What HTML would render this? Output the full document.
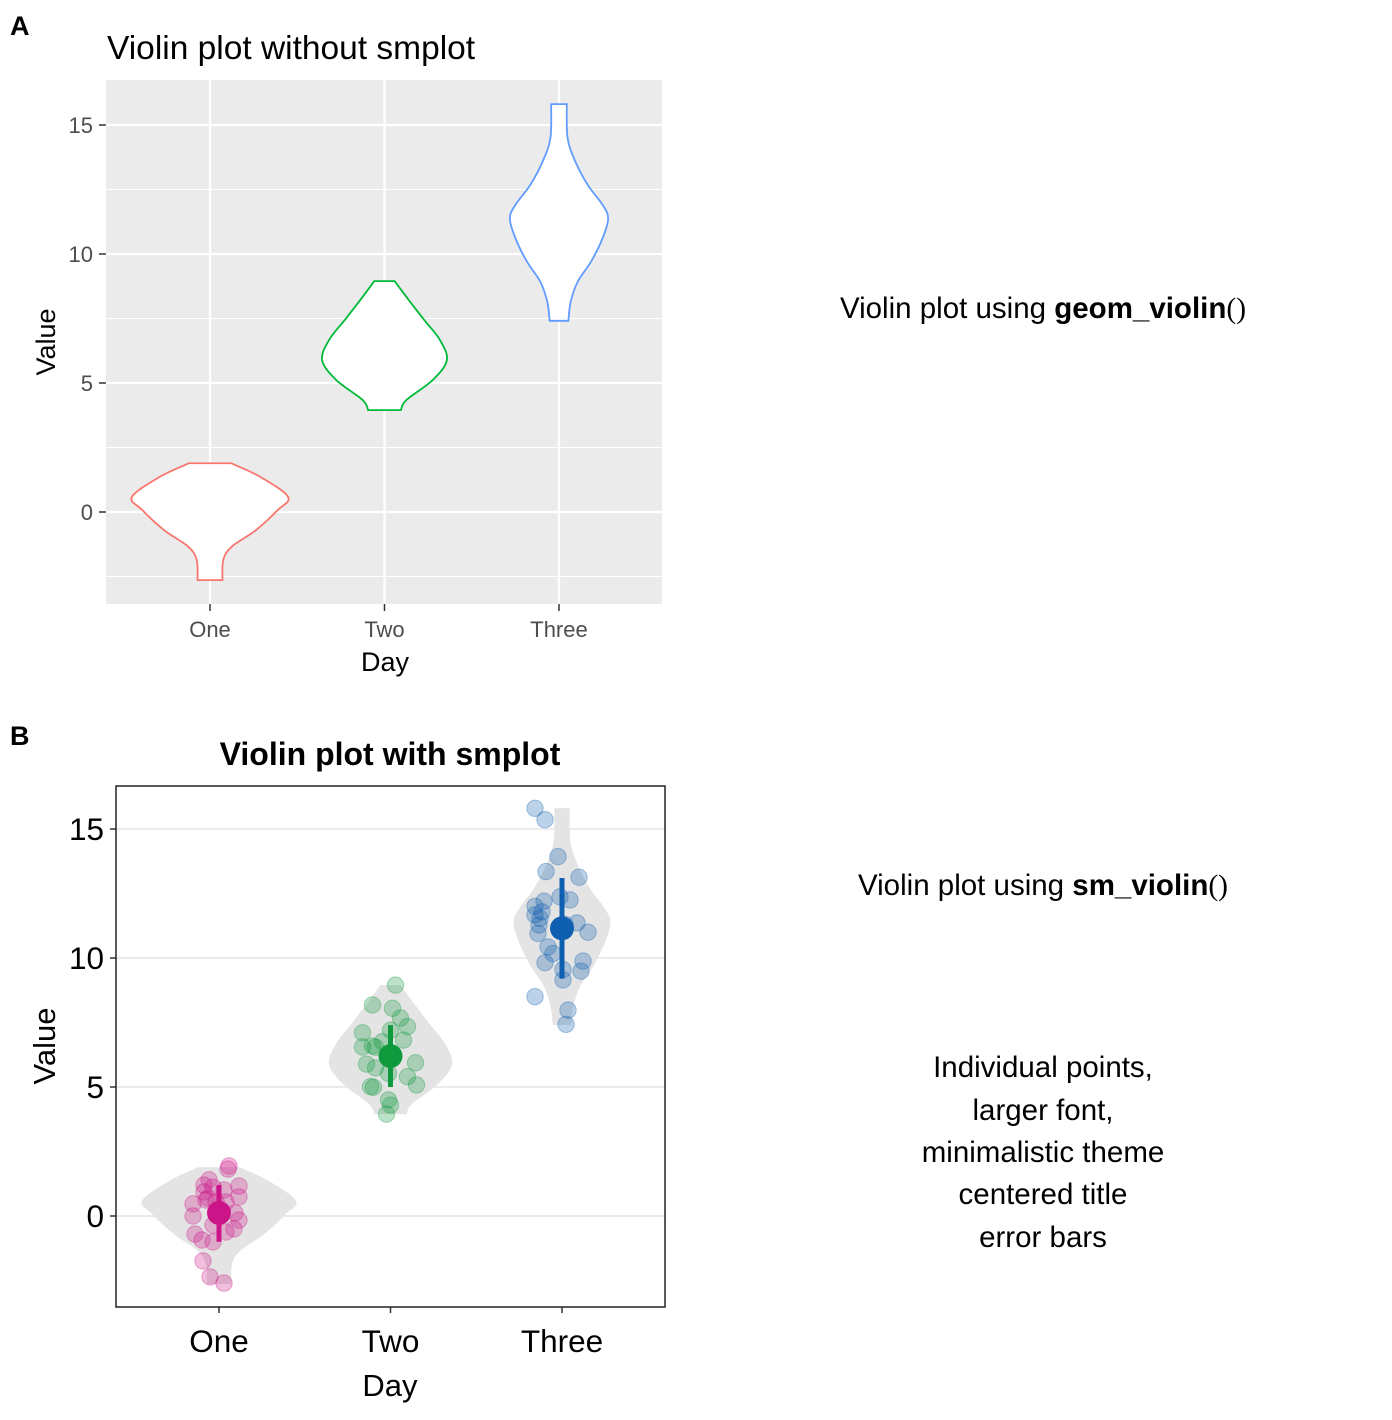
<!DOCTYPE html>
<html><head><meta charset="utf-8"><style>
html,body{margin:0;padding:0;background:#fff;width:1392px;height:1420px;overflow:hidden}
svg{display:block;font-family:"Liberation Sans",Arial,sans-serif}
</style></head><body>
<svg id="s" width="1392" height="1420" viewBox="0 0 1392 1420">
<text x="10" y="35" font-size="27" font-weight="bold">A</text>
<text x="10" y="745" font-size="27" font-weight="bold">B</text>
<text x="107" y="59" font-size="33.5">Violin plot without smplot</text>
<text x="390" y="765" font-size="32" font-weight="bold" text-anchor="middle">Violin plot with smplot</text>
<g id="gA"></g>
<g id="gB"></g>
<text x="1043" y="318" font-size="29.5" text-anchor="middle">Violin plot using <tspan font-weight="bold">geom_violin</tspan><tspan font-family="Liberation Serif">()</tspan></text>
<text x="1043" y="895" font-size="29.5" text-anchor="middle">Violin plot using <tspan font-weight="bold">sm_violin</tspan><tspan font-family="Liberation Serif">()</tspan></text>
<g font-size="29.5" text-anchor="middle">
<text x="1043" y="1077">Individual points,</text>
<text x="1043" y="1120">larger font,</text>
<text x="1043" y="1162">minimalistic theme</text>
<text x="1043" y="1204">centered title</text>
<text x="1043" y="1247">error bars</text>
</g>
</svg>
<script>
const categories = ["One","Two","Three"];
const yTicks = [0,5,10,15];
const violinVals = [
  [1.89,1.37,0.59,0.08,-0.70,-1.34,-1.86,-2.64],
  [8.95,8.22,7.44,6.67,5.89,5.12,4.34,3.95],
  [15.81,14.5,13.58,12.67,11.9,11.38,10.62,9.70,8.93,8.15,7.41]
];
const violinDens = [
  [0.27,0.64,1.0,0.87,0.59,0.28,0.17,0.16],
  [0.13,0.31,0.51,0.71,0.80,0.62,0.28,0.21],
  [0.10,0.11,0.21,0.37,0.56,0.63,0.56,0.41,0.24,0.15,0.12]
];
const ptsOne = [1.94,1.82,1.40,1.20,1.16,0.93,1.12,1.01,0.74,0.62,0.47,0.54,0,0.54,0.12,-0.16,-0.50,-0.35,-0.70,-0.93,-1.0,-1.74,-2.36,-2.6,-0.62,0.70];
const jitOne = [10,9,-10,-15,20,-15,-6,5,20,-13,-26,-3,-26,7,16,20,15,-6,-24,-17,-6,-16,-9,5,7,-11];
const ptsTwo = [8.95,8.18,8.05,7.67,7.34,7.1,7.2,6.82,6.55,6.59,6.54,6.76,5.89,5.74,5.94,5.40,5.08,5.01,4.99,4.50,4.30,3.95,5.53];
const jitTwo = [5,-18,2,10,17,-28,0,13,-28,-18,-15,-8,-24,-15,25,17,26,-20,-17,-2,0,-4,-2];
const ptsThree = [15.8,15.36,13.93,13.35,13.13,12.2,12.37,12.25,12.0,11.79,11.67,11.54,11.28,10.95,11.36,11.0,10.43,10.17,9.82,9.88,9.49,9.55,9.15,8.5,7.98,7.43,11.3];
const jitThree = [-27,-17,-4,-16,17,-18,-2,8,-27,-20,-27,-22,-23,-24,15,26,-14,-9,-17,21,19,1,1,-27,6,4,3];
const means = [0.12,6.2,11.15];
const errLow = [-1.0,5.0,9.2];
const errHigh = [1.2,7.4,13.1];

const NS="http://www.w3.org/2000/svg";
function mk(tag,attrs,parent){const e=document.createElementNS(NS,tag);for(const k in attrs)e.setAttribute(k,attrs[k]);parent.appendChild(e);return e;}

function violinPath(vals,dens,cx,ys,k){
  const R=vals.map((v,i)=>[cx+dens[i]*k,ys(v)]);
  const L=vals.map((v,i)=>[cx-dens[i]*k,ys(v)]).reverse();
  function curve(p){let d="";for(let i=0;i<p.length-1;i++){const p0=p[Math.max(0,i-1)],p1=p[i],p2=p[i+1],p3=p[Math.min(p.length-1,i+2)];
    d+=` C${p1[0]+(p2[0]-p0[0])/6},${p1[1]+(p2[1]-p0[1])/6} ${p2[0]-(p3[0]-p1[0])/6},${p2[1]-(p3[1]-p1[1])/6} ${p2[0]},${p2[1]}`;}return d;}
  return `M${R[0][0]},${R[0][1]}`+curve(R)+` L${L[0][0]},${L[0][1]}`+curve(L)+" Z";
}

// Panel A
(function(){
  const g=document.getElementById('gA');
  const X0=106,X1=662,Y0=80,Y1=604;
  const ys=v=>512-v*25.8;
  const xs=i=>210+i*174.5;
  const bg=mk('rect',{x:X0,y:Y0,width:X1-X0,height:Y1-Y0,fill:'#ebebeb'},g);
  
  
  [-2.5,2.5,7.5,12.5].forEach(v=>{const l=mk('line',{x1:X0,x2:X1,y1:ys(v),y2:ys(v),stroke:'#fff','stroke-width':1},g);
    
    });
  yTicks.forEach(v=>{const l=mk('line',{x1:X0,x2:X1,y1:ys(v),y2:ys(v),stroke:'#fff','stroke-width':2.2},g);
    
    
    const t=mk('line',{x1:99,x2:X0,y1:ys(v),y2:ys(v),stroke:'#333','stroke-width':1.5},g);
    
    
    const tx=mk('text',{x:93,y:ys(v)+8,'font-size':22,fill:'#4d4d4d','text-anchor':'end'},g);tx.textContent=v;
    
    });
  const cols=['#F8766D','#00BA38','#619CFF'];
  categories.forEach((c,i)=>{
    const l=mk('line',{x1:xs(i),x2:xs(i),y1:Y0,y2:Y1,stroke:'#fff','stroke-width':2.2},g);
    
    
    const t=mk('line',{x1:xs(i),x2:xs(i),y1:Y1,y2:Y1+7,stroke:'#333','stroke-width':1.5},g);
    
    
    const tx=mk('text',{x:xs(i),y:637,'font-size':22,fill:'#4d4d4d','text-anchor':'middle'},g);tx.textContent=c;
    
    
  });
  categories.forEach((c,i)=>{
    const p=mk('path',{d:violinPath(violinVals[i],violinDens[i],xs(i),ys,78),fill:'#fff',stroke:cols[i],'stroke-width':1.8},g);
    
    
  });
  const xt=mk('text',{x:385,y:671,'font-size':27,'text-anchor':'middle'},g);xt.textContent='Day';
  
  
  const yt=mk('text',{x:0,y:0,'font-size':27,'text-anchor':'middle',transform:'translate(55,342) rotate(-90)'},g);yt.textContent='Value';
  
  
})();

// Panel B
(function(){
  const g=document.getElementById('gB');
  const X0=116,X1=665,Y0=786,Y1=1307;
  const ys=v=>1216-v*25.8;
  const xs=i=>219+i*171.5;
  yTicks.forEach(v=>{const l=mk('line',{x1:X0,x2:X1,y1:ys(v),y2:ys(v),stroke:'#ebebeb','stroke-width':2},g);
    
    
    const t=mk('line',{x1:110,x2:X0,y1:ys(v),y2:ys(v),stroke:'#333','stroke-width':1.5},g);
    
    
    const tx=mk('text',{x:104,y:ys(v)+11,'font-size':31.5,fill:'#000','text-anchor':'end'},g);tx.textContent=v;
    
    });
  const cols=['#CC1489','#109A3E','#0F5FB0'];
  const pts=[ptsOne,ptsTwo,ptsThree], jit=[jitOne,jitTwo,jitThree];
  categories.forEach((c,i)=>{
    const p=mk('path',{d:violinPath(violinVals[i],violinDens[i],xs(i),ys,77),fill:'#e4e4e4',stroke:'none'},g);
    
    
    pts[i].forEach((v,j)=>{
      const d=mk('circle',{cx:xs(i)+jit[i][j],cy:ys(v),r:8.2,fill:cols[i],'fill-opacity':0.28,stroke:cols[i],'stroke-opacity':0.35,'stroke-width':1},g);
      
      
    });
    const e=mk('line',{x1:xs(i),x2:xs(i),y1:ys(errLow[i]),y2:ys(errHigh[i]),stroke:cols[i],'stroke-width':5},g);
    
    
    const m=mk('circle',{cx:xs(i),cy:ys(means[i]),r:12,fill:cols[i]},g);
    
    
    const t=mk('line',{x1:xs(i),x2:xs(i),y1:Y1,y2:Y1+6,stroke:'#333','stroke-width':1.5},g);
    
    
    const tx=mk('text',{x:xs(i),y:1352,'font-size':31.5,fill:'#000','text-anchor':'middle'},g);tx.textContent=c;
    
    
  });
  const fr=mk('rect',{x:X0,y:Y0,width:X1-X0,height:Y1-Y0,fill:'none',stroke:'#222','stroke-width':1.5},g);
  
  
  const xt=mk('text',{x:390,y:1396,'font-size':31,'text-anchor':'middle'},g);xt.textContent='Day';
  
  
  const yt=mk('text',{x:0,y:0,'font-size':31,'text-anchor':'middle',transform:'translate(55,1046) rotate(-90)'},g);yt.textContent='Value';
  
  
})();
</script>
</body></html>
